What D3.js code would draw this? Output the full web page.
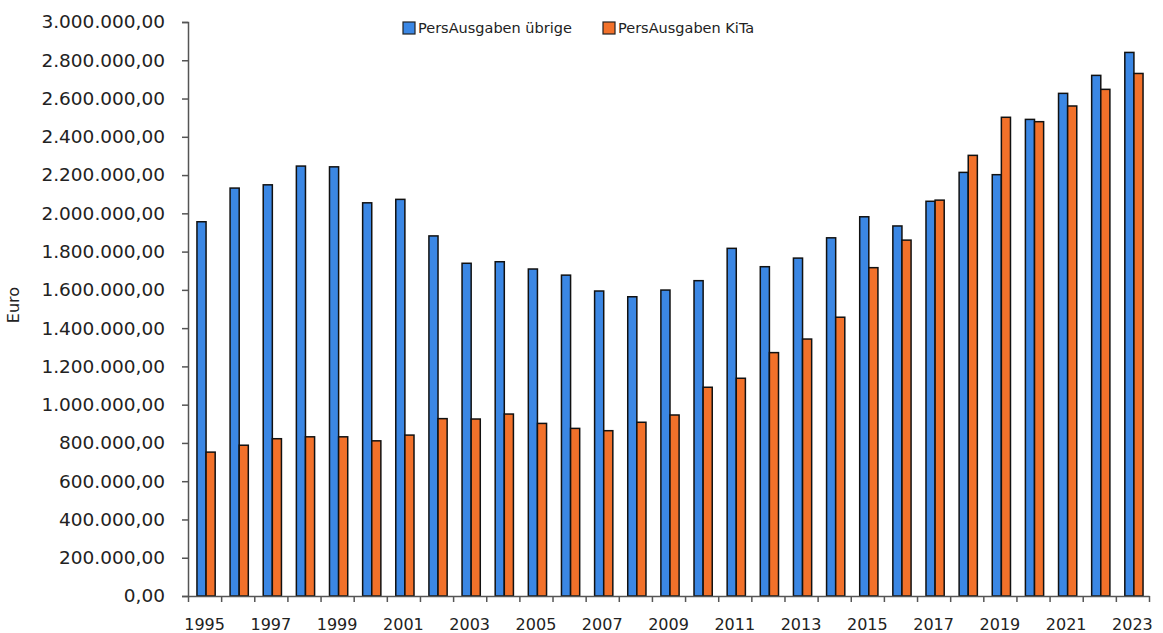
<!DOCTYPE html>
<html>
<head>
<meta charset="utf-8">
<script src="https://cdn.jsdelivr.net/npm/d3@7"></script>
<style>
  body { margin: 0; background: #fff; }
  svg text { font-family: "DejaVu Sans", sans-serif; fill: #222; }
</style>
</head>
<body>
<div id="chart"></div>
<script>
const years = d3.range(1995, 2024);
const seriesNames = ['PersAusgaben übrige', 'PersAusgaben KiTa'];
const uebrige = [1956000, 2132000, 2149000, 2247000, 2243000, 2055000, 2073000, 1882000, 1739000, 1747000,
  1709000, 1677000, 1594000, 1564000, 1599000, 1648000, 1817000, 1721000, 1766000, 1872000,
  1982000, 1934000, 2063000, 2214000, 2202000, 2491000, 2627000, 2721000, 2841000];
const kita = [752000, 788000, 822000, 832000, 832000, 811000, 841000, 927000, 925000, 951000,
  902000, 876000, 864000, 908000, 946000, 1091000, 1138000, 1272000, 1343000, 1457000,
  1716000, 1860000, 2069000, 2303000, 2502000, 2479000, 2561000, 2648000, 2731000];
const yTicks = d3.range(0, 3000001, 200000);
const colors = ['#3b87e4', '#f2712a'];

const width = 1163, height = 633;
const margin = { top: 22, right: 14, bottom: 37, left: 188 };

const svg = d3.select('#chart').append('svg')
  .attr('width', width)
  .attr('height', height);

const x = d3.scaleBand()
  .domain(years)
  .range([margin.left, width - margin.right])
  .padding(0);

const xLin = d3.scaleLinear()
  .domain([1995, 2024])
  .range([margin.left, width - margin.right]);

const x1 = d3.scaleBand()
  .domain(seriesNames)
  .range([x.bandwidth() * 0.27, x.bandwidth() * 0.82]);

const y = d3.scaleLinear()
  .domain([0, 3000000])
  .range([height - margin.bottom, margin.top]);

const fmt = d => d3.format(',.2f')(d).replace(/,/g, 'X').replace(/\./g, ',').replace(/X/g, '.');

// bars
const data = years.map((yr, i) => ({ year: yr, values: [uebrige[i], kita[i]] }));

const groups = svg.append('g').selectAll('g')
  .data(data)
  .enter().append('g')
  .attr('transform', d => `translate(${x(d.year)},0)`);

groups.selectAll('rect')
  .data(d => d.values.map((v, k) => ({ key: seriesNames[k], value: v, k: k })))
  .enter().append('rect')
  .attr('x', d => x1(d.key))
  .attr('y', d => y(d.value))
  .attr('width', x1.bandwidth())
  .attr('height', d => y(0) - y(d.value))
  .attr('fill', d => colors[d.k])
  .attr('stroke', '#111')
  .attr('stroke-width', 1.5);

// y axis
const yAxis = svg.append('g')
  .attr('transform', `translate(${margin.left},0)`)
  .call(d3.axisLeft(y).tickValues(yTicks).tickFormat(fmt).tickSize(6).tickPadding(17));
yAxis.selectAll('text').style('font-size', '18.5px');
yAxis.selectAll('line, path').attr('stroke', '#555').attr('stroke-width', 1.5);

// x axis ticks at band boundaries
const xTickAxis = svg.append('g')
  .attr('transform', `translate(0,${height - margin.bottom})`)
  .call(d3.axisBottom(xLin).tickValues(d3.range(1995, 2025)).tickFormat('').tickSize(6).tickSizeOuter(0));
xTickAxis.selectAll('line, path').attr('stroke', '#555').attr('stroke-width', 1.5);

// x labels every other year
const xLabels = svg.append('g')
  .attr('transform', `translate(0,${height - margin.bottom})`)
  .call(d3.axisBottom(x).tickValues(years.filter(d => (d - 1995) % 2 === 0)).tickSize(0).tickPadding(23));
xLabels.select('.domain').remove();
xLabels.selectAll('text').style('font-size', '16px');

// y axis title
svg.append('text')
  .attr('transform', 'translate(19,305) rotate(-90)')
  .attr('text-anchor', 'middle')
  .style('font-size', '16px')
  .text('Euro');

// legend
const legend = svg.append('g');
const legendX = [403, 603];
seriesNames.forEach((name, k) => {
  const g = legend.append('g').attr('transform', `translate(${legendX[k]},22)`);
  g.append('rect')
    .attr('width', 12).attr('height', 12)
    .attr('fill', colors[k])
    .attr('stroke', '#222').attr('stroke-width', 1.2);
  g.append('text')
    .attr('x', 15).attr('y', 11)
    .style('font-size', '14.5px')
    .text(name);
});
</script>
</body>
</html>
